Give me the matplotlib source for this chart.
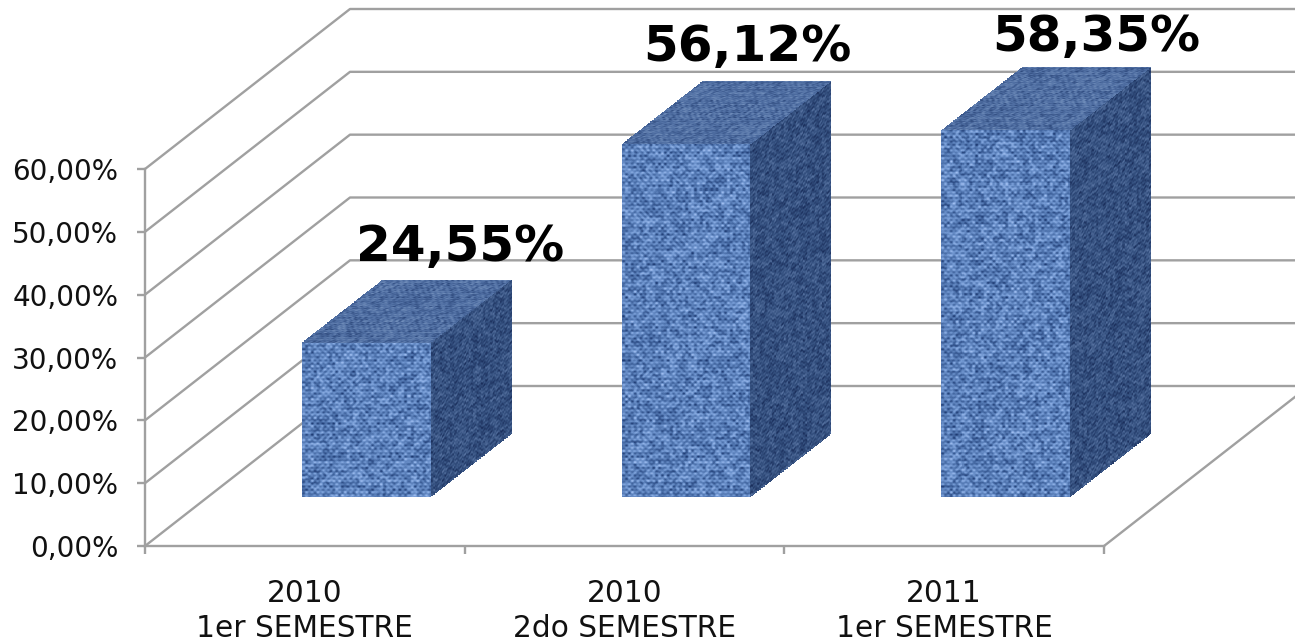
import matplotlib
matplotlib.use("Agg")
import matplotlib.pyplot as plt
import numpy as np
from matplotlib.colors import LinearSegmentedColormap

categories = ["2010\n1er SEMESTRE", "2010\n2do SEMESTRE", "2011\n1er SEMESTRE"]
values = [24.55, 56.12, 58.35]
value_labels = ["24,55%", "56,12%", "58,35%"]
y_ticks = [0, 10, 20, 30, 40, 50, 60]
y_tick_labels = ["0,00%", "10,00%", "20,00%", "30,00%", "40,00%", "50,00%", "60,00%"]

W, H = 1295, 641
AX_L, AX_R, AX_T, AX_B = 145, 1104, 169, 546   # pixels
PX_X = (AX_R - AX_L) / 3
PX_Y = (AX_B - AX_T) / 60

# oblique depth of the 3d box, in data units
DEPTH_X = 205 / PX_X
DEPTH_Y = 160 / PX_Y
BAR_W = 128.5 / PX_X
D0, D1 = 0.300, 0.695
GRID = "#a0a0a0"
LW = 1.7

# label offset from the back centre of each bar top, pixels
label_dx = [13, -20, 10]
label_dy = [33, 34, 30]

front_cm = LinearSegmentedColormap.from_list("front", ["#1c3870", "#466aa4", "#6f95cf", "#a2c0f2"])
side_cm = LinearSegmentedColormap.from_list("side", ["#182b58", "#34507f", "#5a75a3"])
top_cm = LinearSegmentedColormap.from_list("top", ["#2b4679", "#4f6ea2", "#7390bc"])


def weave(nu, nv, seed=0.0):
    u, v = np.meshgrid(np.arange(nu), np.arange(nv))
    threads = 0.5 * np.sin(2 * np.pi * u / 5.5) * np.sin(2 * np.pi * v / 5.5) + 0.3 * np.sin(2 * np.pi * v / 3.7)
    h = np.sin((u // 3) * 12.9898 + (v // 3) * 78.233 + seed) * 43758.5453
    grain = (h - np.floor(h)) - 0.5
    z = 0.5 + 0.55 * threads + 0.55 * grain
    # the source picture is soft, so smooth the weave a little
    z = (z + np.roll(z, 1, 0) + np.roll(z, 1, 1) + np.roll(z, -1, 0) + np.roll(z, -1, 1)) / 5
    return np.clip(z, 0, 1)


def face(ax, p0, du, dv, cmap, seed):
    # p0 corner, du and dv edge vectors in data units
    len_u = np.hypot(du[0] * PX_X, du[1] * PX_Y)
    len_v = np.hypot(dv[0] * PX_X, dv[1] * PX_Y)
    nu, nv = max(int(len_u), 2), max(int(len_v), 2)
    s, t = np.meshgrid(np.linspace(0, 1, nu + 1), np.linspace(0, 1, nv + 1))
    X = p0[0] + s * du[0] + t * dv[0]
    Y = p0[1] + s * du[1] + t * dv[1]
    m = ax.pcolormesh(X, Y, weave(nu, nv, seed), cmap=cmap, vmin=0, vmax=1,
                      shading="flat", antialiased=False, edgecolors="none", zorder=3)
    m.set_clip_on(False)


fig = plt.figure(figsize=(W / 100, H / 100), dpi=100)
ax = fig.add_axes([AX_L / W, 1 - AX_B / H, (AX_R - AX_L) / W, (AX_B - AX_T) / H])

# walls and floor
for v in y_ticks:
    ax.plot([0, DEPTH_X, 5], [v, v + DEPTH_Y, v + DEPTH_Y], color=GRID, lw=LW, clip_on=False, zorder=1)
ax.plot([3, 3 + DEPTH_X], [0, DEPTH_Y], color=GRID, lw=LW, clip_on=False, zorder=1)

# bars
for i, val in enumerate(values):
    left = i + 0.5 - BAR_W / 2
    fx, fy = left + D0 * DEPTH_X, 0.306 * DEPTH_Y
    bx, by = (D1 - D0) * DEPTH_X, (D1 - D0) * DEPTH_Y
    face(ax, (fx, fy), (BAR_W, 0), (0, val), front_cm, i)
    face(ax, (fx + BAR_W, fy), (bx, by), (0, val), side_cm, i + 10)
    face(ax, (fx, fy + val), (BAR_W, 0), (bx, by), top_cm, i + 20)
    ax.annotate(value_labels[i], xy=(fx + BAR_W / 2 + bx, fy + val + by), xycoords="data",
                xytext=(label_dx[i] * 0.72, label_dy[i] * 0.72), textcoords="offset points",
                ha="center", va="center", fontsize=36, fontweight="bold", color="black",
                zorder=5, annotation_clip=False)

ax.set_xlim(0, 3)
ax.set_ylim(0, 60)
ax.set_facecolor("none")
for name in ["top", "right"]:
    ax.spines[name].set_visible(False)
for name in ["left", "bottom"]:
    ax.spines[name].set_color(GRID)
    ax.spines[name].set_linewidth(LW)

ax.set_yticks(y_ticks)
ax.set_yticklabels(y_tick_labels)
ax.set_xticks([0, 1, 2, 3])
ax.set_xticklabels([])
ax.set_xticks([0.5, 1.5, 2.5], minor=True)
ax.set_xticklabels(categories, minor=True, linespacing=1.25)
ax.tick_params(axis="y", length=5.8, width=LW, color=GRID, pad=13.5, labelsize=20, labelcolor="#111111")
ax.tick_params(axis="x", which="major", length=5.8, width=LW, color=GRID)
ax.tick_params(axis="x", which="minor", length=0, pad=24, labelsize=21.3, labelcolor="#111111")

fig.savefig("out.png", dpi=100)
plt.close(fig)
